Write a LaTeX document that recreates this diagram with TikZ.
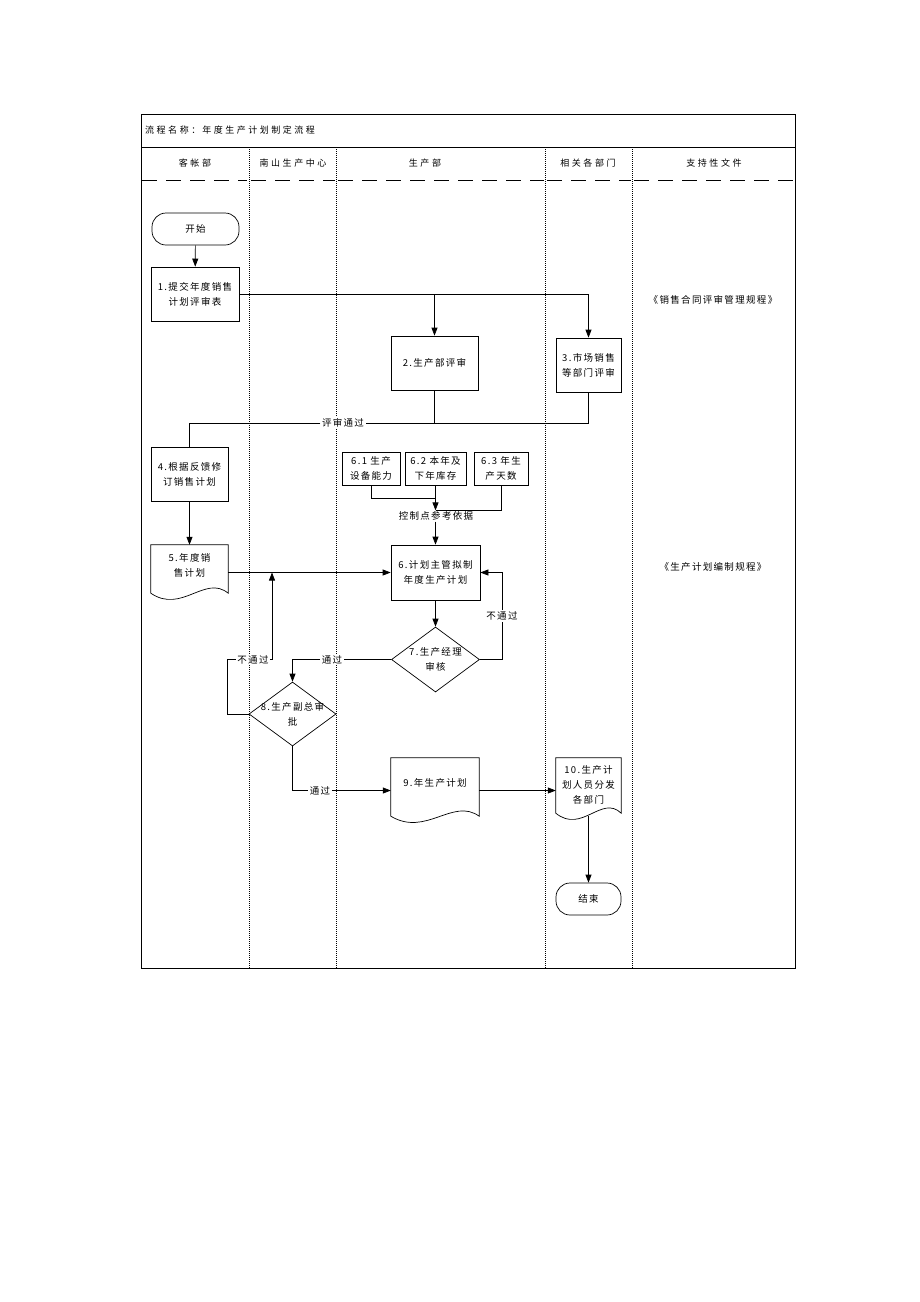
\documentclass[tikz,border=0pt]{standalone}
\usepackage{fontspec}
\setmainfont[LetterSpace=14]{Noto Sans CJK SC}
\newfontfamily\hdfont[LetterSpace=28]{Noto Sans CJK SC}
\usetikzlibrary{arrows.meta,shapes.geometric}
\newcommand\docshape[2]{%
  \draw[boxline] (#1.north west) -- (#1.north east) -- ([yshift=7pt]#1.south east)
    .. controls ([xshift={-0.3*#2pt},yshift=26pt]#1.south east) and ([xshift={0.4*#2pt},yshift=-14pt]#1.south west)
    .. ([yshift=7pt]#1.south west) -- cycle;}
\begin{document}
\begin{tikzpicture}[x=1pt,y=-1pt,
  boxline/.style={line width=0.7pt},
  txt/.style={font=\fontsize{9.5}{15}\selectfont, align=center, inner sep=1pt},
  hd/.style={font=\hdfont\fontsize{9}{12}\selectfont, inner sep=1pt},
  box/.style={txt, draw, boxline, inner sep=0pt},
  term/.style={txt, draw, boxline, rounded corners=14pt, inner sep=0pt},
  ghost/.style={draw=none, inner sep=0pt},
  dia/.style={diamond, draw, boxline, inner sep=0pt},
  lbl/.style={txt, fill=white, inner sep=1.5pt},
  arr/.style={-{Triangle[length=8pt,width=6pt]}},
  con/.style={line width=0.7pt},
  lane/.style={line width=0.6pt, dash pattern=on 1pt off 1pt},
  hdash/.style={line width=0.8pt, dash pattern=on 15pt off 9pt}
]
\useasboundingbox (0,0) rectangle (920,1302);
\fill[white] (0,0) rectangle (920,1302);

% frame
\draw[line width=0.8pt] (141,114) rectangle (795,968);
\draw[line width=0.8pt] (141,147) -- (795,147);
\node[hd, anchor=west] (title) at (144,130) {流程名称：\hspace{2pt}年度生产计划制定流程};

% lanes
\foreach \xx in {249,336,545,632} \draw[lane] (\xx,147) -- (\xx,968);
\draw[hdash] (142,180) -- (247,180);
\draw[hdash] (251,180) -- (335,180);
\draw[hdash] (338,180) -- (544,180);
\draw[hdash] (547,180) -- (631,180);
\draw[hdash] (634,180) -- (793,180);

\node[hd] (h1) at (195,163) {客帐部};
\node[hd] (h2) at (293,163) {南山生产中心};
\node[hd] (h3) at (425,163) {生产部};
\node[hd] (h4) at (588,163) {相关各部门};
\node[hd] (h5) at (714,163) {支持性文件};

% nodes
\node[term, minimum width=87pt, minimum height=32pt] (start) at (195.5,229) {开始};
\node[box, minimum width=88pt, minimum height=54pt] (b1) at (195,294) {1.提交年度销售\\计划评审表};
\node[box, minimum width=87pt, minimum height=54pt] (b2) at (434.5,363) {2.生产部评审};
\node[box, minimum width=65pt, minimum height=54pt] (b3) at (588.5,365) {3.市场销售\\等部门评审};
\node[box, minimum width=77pt, minimum height=54pt] (b4) at (189.5,474) {4.根据反馈修\\订销售计划};

\node[ghost, minimum width=77pt, minimum height=55pt] (d5) at (189.5,572.5) {};
\docshape{d5}{77}
\node[txt] (t5) at (189.5,565.5) {5.年度销\\售计划};

\node[box, minimum width=58pt, minimum height=33pt] (b61) at (371,468.5) {6.1 生产\\设备能力};
\node[box, minimum width=61pt, minimum height=33pt] (b62) at (435.5,468.5) {6.2 本年及\\下年库存};
\node[box, minimum width=54pt, minimum height=33pt] (b63) at (501,468.5) {6.3 年生\\产天数};

\node[box, minimum width=89pt, minimum height=55pt] (b6) at (435.5,572.5) {6.计划主管拟制\\年度生产计划};

\node[dia, minimum width=88pt, minimum height=65pt] (d7) at (435.5,659.5) {};
\node[txt] (t7) at (435.5,659.5) {7.生产经理\\审核};
\node[dia, minimum width=87pt, minimum height=64pt] (d8) at (292.5,714) {};
\node[txt] (t8) at (292.5,714) {8.生产副总审\\批};

\node[ghost, minimum width=88pt, minimum height=65pt] (d9) at (435,790.5) {};
\docshape{d9}{88}
\node[txt] (t9) at (435,783) {9.年生产计划};

\node[ghost, minimum width=65pt, minimum height=62pt] (d10) at (588.5,789) {};
\docshape{d10}{65}
\node[txt] (t10) at (588.5,785) {10.生产计\\划人员分发\\各部门};

\node[term, minimum width=65pt, minimum height=32pt] (end) at (588.5,899) {结束};

% support documents
\node[txt] (s1) at (713,300) {《销售合同评审管理规程》};
\node[txt] (s2) at (713,567) {《生产计划编制规程》};

% connectors
\draw[con, arr] (start) -- (b1);
\draw[con, arr] (b1.east) -| (b3.north);
\coordinate (k2) at (b2.north |- b1.east);
\draw[con, arr] (k2) -- (b2.north);

\node[lbl] (pass) at (343,423) {评审通过};
\draw[con] (b3.south) |- (pass.east);
\draw[con] (b2.south) -- (b2.south |- pass.east);
\draw[con] (pass.west) -| (b4.north);

\draw[con, arr] (b4) -- (d5);
\draw[con, arr] (d5.east) -- (b6.west);

\node[lbl, inner sep=1pt] (ctl) at (436,516) {控制点参考依据};
\coordinate (j1) at (435.5,498);
\coordinate (j3) at (435.5,510);
\draw[con] (b61.south) |- (j1);
\draw[con] (b63.south) |- (j3);
\draw[con, arr] (b62.south) -- (ctl.north -| b62.south);
\draw[con, arr] (ctl.south -| b6.north) -- (b6.north);

\draw[con, arr] (b6) -- (d7);

\node[lbl] (np1) at (502,616) {不通过};
\draw[con] (d7.east) -| (np1.south);
\draw[con, arr] (np1.north) |- (b6.east);

\node[lbl] (ok1) at (332,659.5) {通过};
\draw[con] (d7.west) -- (ok1.east);
\draw[con, arr] (ok1.west) -| (d8.north);

\coordinate (m56) at (272,572.5);
\node[lbl] (np2) at (253,659.5) {不通过};
\draw[con] (d8.west) -- ++(-21,0) |- (np2.west);
\draw[con, arr] (np2.east) -| (m56);

\node[lbl] (ok2) at (320,790.5) {通过};
\draw[con] (d8.south) |- (ok2.west);
\draw[con, arr] (ok2.east) -- (d9.west);

\draw[con, arr] (d9.east) -- (d9.east -| d10.west);
\draw[con, arr] ([yshift=4pt]d10.south) -- (end.north);
\end{tikzpicture}
\end{document}
